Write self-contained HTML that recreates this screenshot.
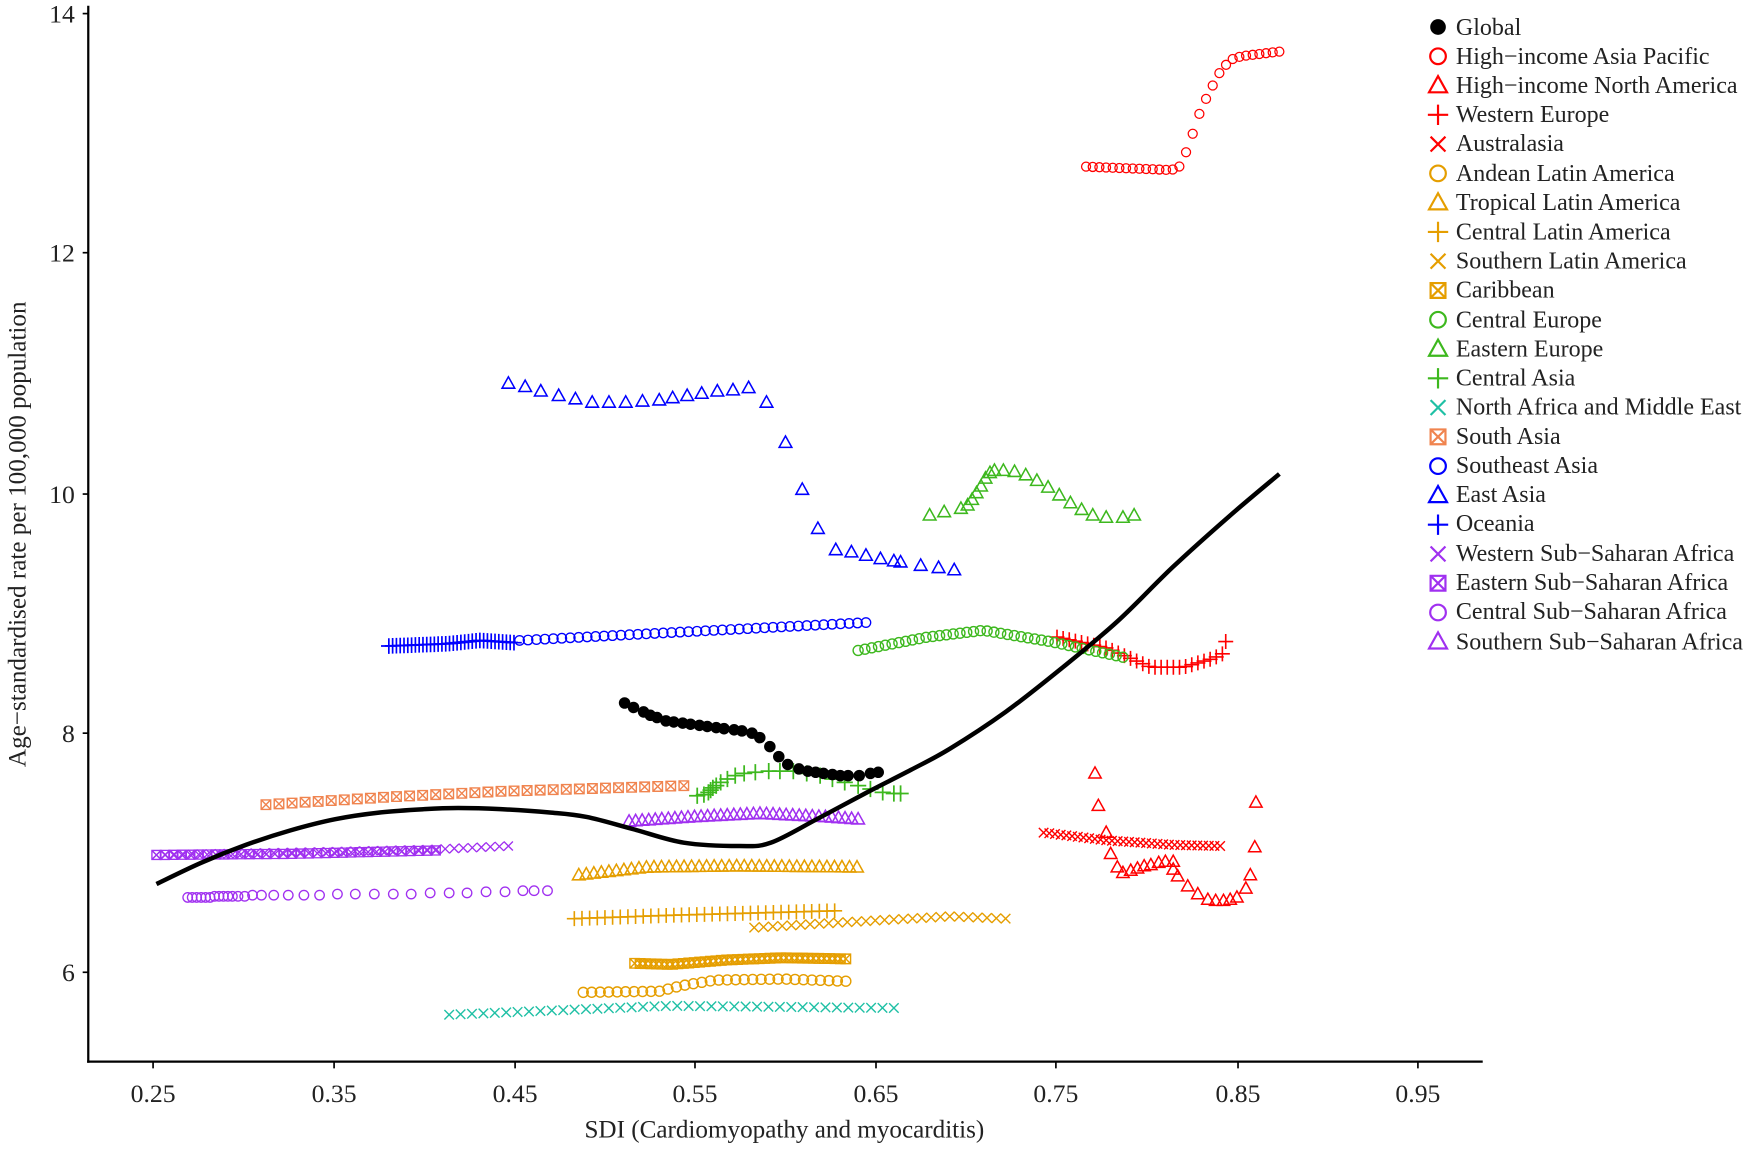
<!DOCTYPE html>
<html><head><meta charset="utf-8"><style>
html,body{margin:0;padding:0;background:#fff}
svg{display:block}
text{font-family:"Liberation Serif",serif;fill:#222}
</style></head><body>
<svg id="s" width="1752" height="1149" viewBox="0 0 1568 1028" xmlns="http://www.w3.org/2000/svg">
<g id="pts"></g>
<path id="curve" fill="none" stroke="#000" stroke-width="4" stroke-linejoin="round" d=""/>
<line x1="79" y1="5" x2="79" y2="951" stroke="#000" stroke-width="2"/>
<line x1="78" y1="950" x2="1327" y2="950" stroke="#000" stroke-width="2"/>
<g stroke="#000" stroke-width="1.5">
<line x1="74" y1="12" x2="79" y2="12"/><line x1="74" y1="226" x2="79" y2="226"/><line x1="74" y1="442" x2="79" y2="442"/><line x1="74" y1="656" x2="79" y2="656"/><line x1="74" y1="870" x2="79" y2="870"/>
<line x1="137" y1="950" x2="137" y2="956"/><line x1="299" y1="950" x2="299" y2="956"/><line x1="461" y1="950" x2="461" y2="956"/><line x1="622" y1="950" x2="622" y2="956"/><line x1="784" y1="950" x2="784" y2="956"/><line x1="945" y1="950" x2="945" y2="956"/><line x1="1108" y1="950" x2="1108" y2="956"/><line x1="1269" y1="950" x2="1269" y2="956"/>
</g>
<g font-size="23" text-anchor="end">
<text x="67" y="20">14</text><text x="67" y="234">12</text><text x="67" y="450">10</text><text x="67" y="664">8</text><text x="67" y="878">6</text>
</g>
<g font-size="23" text-anchor="middle">
<text x="137" y="986">0.25</text><text x="299" y="986">0.35</text><text x="461" y="986">0.45</text><text x="622" y="986">0.55</text><text x="784" y="986">0.65</text><text x="945" y="986">0.75</text><text x="1108" y="986">0.85</text><text x="1269" y="986">0.95</text>
<text x="702" y="1018" font-size="22.5">SDI (Cardiomyopathy and myocarditis)</text>
<text transform="translate(23,478) rotate(-90)" font-size="22.5">Age−standardised rate per 100,000 population</text>
</g>
<g id="leg"></g>
<g font-size="21.5">
<text x="1303" y="31">Global</text>
<text x="1303" y="57">High−income Asia Pacific</text>
<text x="1303" y="83">High−income North America</text>
<text x="1303" y="109">Western Europe</text>
<text x="1303" y="135">Australasia</text>
<text x="1303" y="162">Andean Latin America</text>
<text x="1303" y="188">Tropical Latin America</text>
<text x="1303" y="214">Central Latin America</text>
<text x="1303" y="240">Southern Latin America</text>
<text x="1303" y="266">Caribbean</text>
<text x="1303" y="293">Central Europe</text>
<text x="1303" y="319">Eastern Europe</text>
<text x="1303" y="345">Central Asia</text>
<text x="1303" y="371">North Africa and Middle East</text>
<text x="1303" y="397">South Asia</text>
<text x="1303" y="423">Southeast Asia</text>
<text x="1303" y="449">East Asia</text>
<text x="1303" y="475">Oceania</text>
<text x="1303" y="502">Western Sub−Saharan Africa</text>
<text x="1303" y="528">Eastern Sub−Saharan Africa</text>
<text x="1303" y="554">Central Sub−Saharan Africa</text>
<text x="1303" y="581">Southern Sub−Saharan Africa</text>
</g>
</svg>
<script>
(function(){
var NS="http://www.w3.org/2000/svg";
var g=document.getElementById("pts"), lg=document.getElementById("leg");
var R="#f00",O="#E59E00",G="#3DB81E",T="#1FC0A5",SA="#F0844F",B="#0000FF",P="#A030F0";
// smooth curve
var C=[[140,791],[180,772],[220,756],[260,743],[300,733],[340,727],[380,724],[410,723],[448,724],[492,727],[525,731],[567,742],[612,754],[662,757],[690,754],[731,733],[776,709],[815,689],[850,670],[900,637],[950,598],[1000,556],[1050,507],[1100,462],[1145,424]];
var d="M"+C[0][0]+" "+C[0][1];
for(var i=0;i<C.length-1;i++){var p0=C[Math.max(i-1,0)],p1=C[i],p2=C[i+1],p3=C[Math.min(i+2,C.length-1)];
d+=" C"+(p1[0]+(p2[0]-p0[0])/6)+" "+(p1[1]+(p2[1]-p0[1])/6)+" "+(p2[0]-(p3[0]-p1[0])/6)+" "+(p2[1]-(p3[1]-p1[1])/6)+" "+p2[0]+" "+p2[1];}
document.getElementById("curve").setAttribute("d",d);
function el(p,n,a){var e=document.createElementNS(NS,n);for(var k in a)e.setAttribute(k,a[k]);p.appendChild(e);return e;}
function mk(p,type,x,y,c,s){
 var sw=1.4*(s/5);
 if(type=="dot")el(p,"circle",{cx:x,cy:y,r:s,fill:"#000"});
 else if(type=="o")el(p,"circle",{cx:x,cy:y,r:s,fill:"none",stroke:c,"stroke-width":sw});
 else if(type=="t"){var h=s*1.15;el(p,"polygon",{points:(x-h)+","+(y+h*0.75)+" "+(x+h)+","+(y+h*0.75)+" "+x+","+(y-h*1.05),fill:"none",stroke:c,"stroke-width":sw});}
 else if(type=="p"){el(p,"path",{d:"M"+(x-s*1.3)+" "+y+"H"+(x+s*1.3)+"M"+x+" "+(y-s*1.3)+"V"+(y+s*1.3),stroke:c,"stroke-width":sw,fill:"none"});}
 else if(type=="x"){var d=s*0.95;el(p,"path",{d:"M"+(x-d)+" "+(y-d)+"L"+(x+d)+" "+(y+d)+"M"+(x-d)+" "+(y+d)+"L"+(x+d)+" "+(y-d),stroke:c,"stroke-width":sw,fill:"none"});}
 else if(type=="b"){var d=s*0.95;el(p,"path",{d:"M"+(x-d)+" "+(y-d)+"h"+2*d+"v"+2*d+"h"+(-2*d)+"zM"+(x-d)+" "+(y-d)+"L"+(x+d)+" "+(y+d)+"M"+(x-d)+" "+(y+d)+"L"+(x+d)+" "+(y-d),stroke:c,"stroke-width":sw,fill:"none"});}
}
function interp(ctrl,x){for(var i=0;i<ctrl.length-1;i++){var a=ctrl[i],b=ctrl[i+1];if(x>=a[0]&&x<=b[0]){var t=(x-a[0])/((b[0]-a[0])||1);return a[1]+t*(b[1]-a[1]);}}return ctrl[ctrl.length-1][1];}
var K=1.12;
function ser(type,c,ctrl,n,s){var x0=ctrl[0][0],x1=ctrl[ctrl.length-1][0];for(var i=0;i<n;i++){var x=x0+(x1-x0)*i/(n-1);mk(g,type,x,interp(ctrl,x),c,(s||4.3)*K);}}
function pts(type,c,list,s){list.forEach(function(q){mk(g,type,q[0],q[1],c,(s||4.3)*K);});}
ser("o",R,[[972,149],[1048,152],[1055,150],[1062,135],[1068,118],[1074,100],[1080,87],[1086,75],[1092,64],[1098,57],[1104,52],[1112,50],[1145,46]],30,3.6);
pts("t",R,[[980,692],[983,721],[990,745],[994,764],[1000,776],[1005,781],[1012,779],[1018,777],[1024,775],[1030,774],[1037,772],[1043,771],[1050,771],[1050,778],[1054,784],[1063,793],[1072,800],[1081,805],[1088,806],[1095,806],[1101,805],[1107,803],[1115,795],[1119,783],[1123,758],[1124,718]],4.3);
ser("x",R,[[934,745],[991,752],[1050,756],[1092,757]],32,4);
ser("p",R,[[946,570],[991,580],[1030,597],[1059,597],[1086,589],[1094,585]],28,4.6);pts("p",R,[[1097,574]],4.6);
ser("o",O,[[522,888],[590,887],[610,882],[640,877],[700,876],[757,878]],32,4);
ser("t",O,[[518,783],[580,776],[660,775],[767,776]],38,4.4);
ser("p",O,[[514,822],[600,819],[747,815]],35,4.6);
ser("x",O,[[675,830],[760,825],[850,820],[900,822]],28,4);
ser("b",O,[[568,862],[600,863],[650,859],[700,857],[757,858]],40,4);
ser("o",G,[[768,582],[830,570],[880,564],[940,574],[1005,588]],40,4);
pts("t",G,[[832,461],[845,458],[860,455],[866,452],[870,447],[874,441],[878,435],[882,428],[886,423],[890,421],[898,421],[908,422],[918,425],[928,430],[938,436],[948,443],[958,450],[968,456],[978,461],[990,463],[1005,463],[1015,461]],4.4);
pts("p",G,[[624,712],[630,711],[634,709],[636,707],[638,705],[641,703],[645,700],[651,697],[658,694],[666,692],[676,691],[688,690],[698,690],[710,690],[722,692],[734,694],[745,697],[756,700],[768,703],[779,706],[790,709],[800,710],[806,710]],5);
ser("x",T,[[402,908],[500,904],[600,900],[800,902]],40,4);
ser("b",SA,[[238,720],[350,713],[450,708],[612,703]],33,4);
ser("o",B,[[465,573],[600,566],[775,557]],42,3.8);
pts("t",B,[[455,343],[470,346],[484,350],[500,354],[515,357],[530,360],[545,360],[560,360],[575,359],[590,358],[602,356],[615,354],[628,352],[642,350],[656,349],[670,347],[686,360],[703,396],[718,438],[732,473],[748,492],[762,494],[775,497],[788,500],[800,502],[806,503],[824,506],[840,508],[854,510]],4.4);
ser("p",B,[[348,578],[400,576],[430,573],[460,575]],34,4.8);
ser("x",P,[[140,765],[300,762],[390,760],[455,757]],40,3.8);
ser("b",P,[[140,765],[260,764],[390,761]],34,3.8);
pts("o",P,[[168,803],[172,803],[176,803],[180,803],[184,803],[188,803],[192,802],[196,802],[200,802],[204,802],[208,802],[213,802],[219,802],[226,801],[234,801],[245,801],[258,801],[272,801],[286,801],[302,800],[318,800],[335,800],[352,800],[368,800],[385,799],[402,799],[418,799],[435,798],[452,798],[468,797],[478,797],[490,797]],3.8);
ser("t",P,[[563,735],[620,731],[680,728],[740,731],[768,733]],36,4.4);
pts("dot","#000",[[559,629],[567,633],[576,637],[582,640],[588,642],[596,645],[603,646],[611,647],[618,648],[626,649],[633,650],[641,651],[648,652],[657,653],[664,654],[673,656],[680,660],[689,668],[697,677],[705,684],[715,688],[723,690],[730,691],[737,692],[745,693],[752,694],[759,694],[769,694],[779,692],[786,691]],4.6);
var L=[["dot","#000"],["o",R],["t",R],["p",R],["x",R],["o",O],["t",O],["p",O],["x",O],["b",O],["o",G],["t",G],["p",G],["x",T],["b",SA],["o",B],["t",B],["p",B],["x",P],["b",P],["o",P],["t",P]];
L.forEach(function(m,i){mk(lg,m[0],1287,24+i*26.2,m[1],m[0]=="dot"?7:7);});
})();
</script>
</body></html>
